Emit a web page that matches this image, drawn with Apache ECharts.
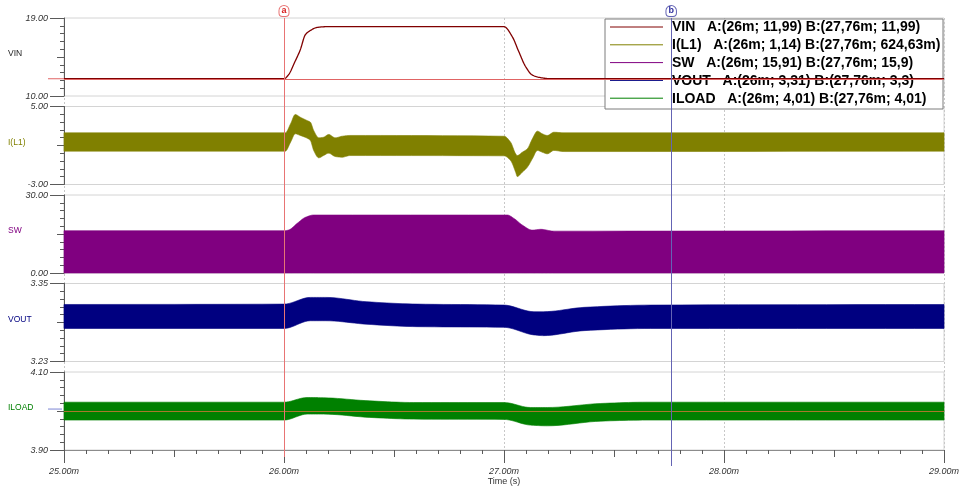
<!DOCTYPE html>
<html>
<head>
<meta charset="utf-8">
<script src="https://cdn.jsdelivr.net/npm/echarts@6/dist/echarts.min.js"></script>
<style>
  html, body { margin: 0; padding: 0; background: #fff; }
  #chart { width: 966px; height: 487px; }
</style>
</head>
<body>
<div id="chart"></div>
<script>
// ---- time axis (ms) ----
const T_MIN = 25;
const T_MAX = 29;
const timeTitle = 'Time (s)';

// ---- traces ----
const names      = ['VIN', 'I(L1)', 'SW', 'VOUT', 'ILOAD'];
const colors     = ['#800000', '#808000', '#800080', '#000080', '#008000'];
const nameColors = ['#222222', '#808000', '#800080', '#000080', '#008000'];
const yMin = [10, -3, 0, 3.23, 3.90];
const yMax = [19, 5, 30, 3.35, 4.10];

// ---- cursors ----
const cursorA = 26;
const cursorB = 27.76;
const cursorALabel = '26m';
const cursorBLabel = '27,76m';
const readA = ['11,99', '1,14', '15,91', '3,31', '4,01'];
const readB = ['11,99', '624,63m', '15,9', '3,3', '4,01'];
const vinCursorLevel = 11.99;
const iloadCursorLevel = 4.005;

// ---- VIN (single trace) ----
const vinT = [25, 26, 26.02, 26.05, 26.074, 26.097, 26.12, 26.15, 26.196, 27.0, 27.037, 27.067, 27.098, 27.128, 27.166, 27.21, 29];
const vinV = [11.99, 11.99, 12.43, 13.97, 15.33, 17.07, 17.56, 17.91, 18.0, 18.0, 16.87, 15.13, 13.4, 12.43, 12.12, 11.99, 11.99];

// ---- switching traces: upper / lower envelope of the ripple band ----
const iT  = [25, 26, 26.006, 26.03, 26.051, 26.074, 26.105, 26.12, 26.135, 26.158, 26.18, 26.203, 26.233, 26.264, 26.30, 27.0, 27.03, 27.053, 27.06, 27.083, 27.106, 27.129, 27.152, 27.174, 27.197, 27.227, 27.273, 29];
const iHi = [2.30, 2.30, 2.30, 3.23, 4.18, 3.90, 3.56, 3.39, 2.54, 1.79, 1.85, 2.13, 1.79, 1.95, 2.03, 1.95, 1.34, 0.15, -0.03, 0.31, 0.66, 1.69, 2.47, 2.20, 2.03, 2.36, 2.30, 2.30];
const iLo = [0.42, 0.42, 0.42, 1.34, 2.20, 2.03, 1.75, 1.51, 0.49, -0.26, -0.03, 0.21, -0.13, -0.20, -0.03, -0.06, -0.54, -1.74, -2.18, -1.74, -1.23, -0.36, 0.49, 0.31, 0.15, 0.49, 0.38, 0.42];

const swT  = [25, 26, 26.02, 26.06, 26.097, 26.135, 27.015, 27.045, 27.083, 27.129, 27.167, 27.227, 29];
const swHi = [16.27, 16.27, 16.5, 19.1, 21.4, 22.3, 22.3, 21.0, 18.46, 16.5, 16.8, 16.1, 16.27];
const swLo = [0, 0, 0, 0, 0, 0, 0, 0, 0, 0, 0, 0, 0];

const voT  = [25, 26, 26.12, 26.19, 26.377, 26.605, 27.0, 27.136, 27.18, 27.364, 27.667, 29];
const voHi = [3.3177, 3.3183, 3.3286, 3.3286, 3.3219, 3.3183, 3.3168, 3.3066, 3.3066, 3.3133, 3.3168, 3.3177];
const voLo = [3.2808, 3.2808, 3.2927, 3.2927, 3.2873, 3.2836, 3.2826, 3.2709, 3.2698, 3.2775, 3.2808, 3.2808];

const ilT  = [25, 26, 26.105, 26.18, 26.39, 26.59, 27.0, 27.12, 27.197, 27.44, 27.65, 29];
const ilHi = [4.0226, 4.0226, 4.0346, 4.034, 4.026, 4.0218, 4.0218, 4.009, 4.009, 4.0193, 4.0226, 4.0226];
const ilLo = [3.9767, 3.9767, 3.992, 3.992, 3.9835, 3.9792, 3.9784, 3.9638, 3.962, 3.974, 3.9767, 3.9767];

const bands = [null, [iT, iHi, iLo], [swT, swHi, swLo], [voT, voHi, voLo], [ilT, ilHi, ilLo]];

// ---- layout ----
const FONT = "'Liberation Sans', Arial, sans-serif";
const CHART_W = 966;
const GRID_LEFT = 64;
const GRID_RIGHT = 22;
const panelTop = [18, 106.5, 195, 283.5, 372];
const PANEL_H = 78;
const AXIS_GREY = '#5a5a5a';

// monotone cubic (Fritsch-Carlson) through pixel points, sampled for drawing
function smoothLine(pts) {
  const n = pts.length;
  const h = [], d = [], m = new Array(n).fill(0);
  for (let k = 0; k < n - 1; k++) {
    h[k] = pts[k + 1][0] - pts[k][0];
    d[k] = h[k] > 0 ? (pts[k + 1][1] - pts[k][1]) / h[k] : 0;
  }
  m[0] = d[0];
  m[n - 1] = d[n - 2];
  for (let k = 1; k < n - 1; k++) {
    if (d[k - 1] * d[k] <= 0) { m[k] = 0; continue; }
    const w1 = 2 * h[k] + h[k - 1], w2 = h[k] + 2 * h[k - 1];
    m[k] = (w1 + w2) / (w1 / d[k - 1] + w2 / d[k]);
  }
  const out = [];
  const STEPS = 10;
  for (let k = 0; k < n - 1; k++) {
    const p1 = pts[k], p2 = pts[k + 1];
    const c1 = [p1[0] + h[k] / 3, p1[1] + m[k] * h[k] / 3];
    const c2 = [p2[0] - h[k] / 3, p2[1] - m[k + 1] * h[k] / 3];
    for (let s = 0; s < STEPS; s++) {
      const t = s / STEPS, u = 1 - t;
      out.push([
        u * u * u * p1[0] + 3 * u * u * t * c1[0] + 3 * u * t * t * c2[0] + t * t * t * p2[0],
        u * u * u * p1[1] + 3 * u * u * t * c1[1] + 3 * u * t * t * c2[1] + t * t * t * p2[1]
      ]);
    }
  }
  out.push(pts[n - 1]);
  return out;
}

function bandRenderer(idx) {
  const [ts, his, los] = bands[idx];
  return function (params, api) {
    if (params.dataIndex !== 0) return null;
    const top = ts.map((t, k) => api.coord([t, his[k]]));
    const bot = ts.map((t, k) => api.coord([t, los[k]]));
    const pts = smoothLine(top).concat(smoothLine(bot).reverse());
    return {
      type: 'polygon',
      shape: { points: pts },
      style: { fill: colors[idx], stroke: colors[idx], lineWidth: 0.6 }
    };
  };
}

function vinRenderer(params, api) {
  if (params.dataIndex !== 0) return null;
  const pts = vinT.map((t, k) => api.coord([t, vinV[k]]));
  return {
    type: 'polyline',
    shape: { points: smoothLine(pts) },
    style: { stroke: colors[0], lineWidth: 1.3, fill: null }
  };
}

// ---- grids ----
const grids = panelTop.map(t => ({
  left: GRID_LEFT, right: GRID_RIGHT, top: t, height: PANEL_H,
  show: true, borderColor: '#d4d4d4', borderWidth: 1
}));
const plotBottom = panelTop[4] + PANEL_H;
grids.push({ left: GRID_LEFT, right: GRID_RIGHT, top: panelTop[0], height: plotBottom - panelTop[0] }); // 5: shared time axis
grids.push({ left: GRID_LEFT, right: GRID_RIGHT, top: panelTop[0], height: 439 });                    // 6: cursor a
grids.push({ left: GRID_LEFT, right: GRID_RIGHT, top: panelTop[0], height: 448 });                    // 7: cursor b

// ---- x axes ----
const xAxes = [];
for (let i = 0; i < 5; i++) {
  xAxes.push({ gridIndex: i, type: 'value', min: T_MIN, max: T_MAX, show: false });
}
xAxes.push({ // 5: labelled time axis
  gridIndex: 5, type: 'value', position: 'bottom', min: T_MIN, max: T_MAX, interval: 1,
  axisLine: { show: true, lineStyle: { color: '#8c8c8c', width: 1 } },
  axisTick: { show: true, length: 13, lineStyle: { color: AXIS_GREY } },
  minorTick: { show: true, splitNumber: 10, length: 4, lineStyle: { color: AXIS_GREY } },
  axisLabel: {
    formatter: v => v.toFixed(2) + 'm', fontStyle: 'italic', fontSize: 9,
    fontFamily: FONT, color: '#333', margin: 17
  },
  splitLine: { show: true, lineStyle: { color: '#c8c8c8', type: [2, 2], width: 1 } }
});
xAxes.push({ // 6: half-ms ticks
  gridIndex: 5, type: 'value', position: 'bottom', min: T_MIN, max: T_MAX, interval: 0.5,
  axisLine: { show: false },
  axisTick: { show: true, length: 7, lineStyle: { color: AXIS_GREY } },
  axisLabel: { show: false }, splitLine: { show: false }
});
xAxes.push({ gridIndex: 6, type: 'value', min: T_MIN, max: T_MAX, show: false }); // 7
xAxes.push({ gridIndex: 7, type: 'value', min: T_MIN, max: T_MAX, show: false }); // 8

// ---- y axes: 3 per panel (end ticks + labels, minor ticks, middle tick) ----
const yAxes = [];
for (let i = 0; i < 5; i++) {
  const lo = yMin[i], hi = yMax[i];
  const step = (hi - lo) / 10;
  const minor = [1, 2, 3, 4, 6, 7, 8, 9].map(k => lo + k * step);
  const mid = lo + 5 * step;
  const base = { gridIndex: i, type: 'value', position: 'left', min: lo, max: hi, splitLine: { show: false } };
  yAxes.push(Object.assign({}, base, {
    axisLine: { show: true, lineStyle: { color: AXIS_GREY, width: 1 } },
    axisTick: { show: true, customValues: [lo, hi], length: 14, lineStyle: { color: AXIS_GREY } },
    axisLabel: {
      show: true, customValues: [lo, hi], formatter: v => v.toFixed(2),
      fontStyle: 'italic', fontSize: 9, fontFamily: FONT, color: '#333', margin: 16
    }
  }));
  yAxes.push(Object.assign({}, base, {
    axisLine: { show: false },
    axisTick: { show: true, customValues: minor, length: 4, lineStyle: { color: AXIS_GREY } },
    axisLabel: { show: false }
  }));
  yAxes.push(Object.assign({}, base, {
    axisLine: { show: false },
    axisTick: { show: true, customValues: [mid], length: 7, lineStyle: { color: AXIS_GREY } },
    axisLabel: { show: false }
  }));
}
yAxes.push({ gridIndex: 5, type: 'value', min: 0, max: 1, show: false }); // 15
yAxes.push({ gridIndex: 6, type: 'value', min: 0, max: 1, show: false }); // 16
yAxes.push({ gridIndex: 7, type: 'value', min: 0, max: 1, show: false }); // 17

// ---- series ----
const series = [];
series.push({
  name: names[0], type: 'custom', xAxisIndex: 0, yAxisIndex: 0,
  data: vinT.map((t, k) => [t, vinV[k]]),
  encode: { x: 0, y: 1 },
  renderItem: vinRenderer, silent: true, z: 3,
  markLine: {
    silent: true, symbol: 'none', animation: false,
    data: [{ yAxis: vinCursorLevel }],
    lineStyle: { color: '#e06464', width: 1, type: 'solid' },
    label: { show: false }
  }
});
for (let i = 1; i < 5; i++) {
  const [ts, his, los] = bands[i];
  const s = {
    name: names[i], type: 'custom', xAxisIndex: i, yAxisIndex: i * 3,
    data: ts.map((t, k) => [t, his[k], los[k]]),
    encode: { x: 0, y: [1, 2] },
    renderItem: bandRenderer(i), silent: true, z: 3
  };
  if (i === 4) {
    s.markLine = {
      silent: true, symbol: 'none', animation: false,
      data: [{ yAxis: iloadCursorLevel }],
      lineStyle: { color: '#a8782c', width: 1, type: 'solid' },
      label: { show: false }
    };
  }
  series.push(s);
}

function cursorSeries(xIdx, yIdx, value, letter, color, textColor) {
  return {
    type: 'line', xAxisIndex: xIdx, yAxisIndex: yIdx, data: [], silent: true, z: 6,
    markLine: {
      silent: true, symbol: 'none', animation: false,
      data: [{ xAxis: value }],
      lineStyle: { color: color, width: 1, type: 'solid' },
      label: {
        show: true, position: 'end', formatter: letter, distance: 2,
        color: textColor, fontSize: 9, fontWeight: 'bold', fontFamily: FONT,
        backgroundColor: '#fff', borderColor: color, borderWidth: 1,
        borderRadius: [5, 5, 3, 3], padding: [0, 2, 0, 2], lineHeight: 10
      }
    }
  };
}
series.push(cursorSeries(7, 16, cursorA, 'a', '#e87474', '#d82020'));
series.push(cursorSeries(8, 17, cursorB, 'b', '#6464b4', '#3030a0'));

// ---- legend box with cursor readouts, trace names, time axis title ----
const graphics = [];
const LEG_X = 605, LEG_Y = 19, LEG_W = 338, LEG_H = 90, ROW0 = 27, ROW_H = 17.8;
graphics.push({
  type: 'rect', z: 1, silent: true,
  shape: { x: LEG_X, y: LEG_Y, width: LEG_W, height: LEG_H },
  style: { fill: '#fff', stroke: '#7c7c7c', lineWidth: 1 }
});
names.forEach((n, i) => {
  const ry = ROW0 + i * ROW_H;
  graphics.push({
    type: 'line', z: 1, silent: true,
    shape: { x1: LEG_X + 5, y1: ry, x2: LEG_X + 58, y2: ry },
    style: { stroke: colors[i], lineWidth: 1 }
  });
  graphics.push({
    type: 'text', z: 1, silent: true, x: LEG_X + 67, y: ry + 0.5,
    style: {
      text: n + '   A:(' + cursorALabel + '; ' + readA[i] + ') B:(' + cursorBLabel + '; ' + readB[i] + ')',
      font: 'bold 14px ' + FONT, fill: '#000', verticalAlign: 'middle', align: 'left'
    }
  });
  graphics.push({
    type: 'text', z: 1, silent: true, x: 8, y: panelTop[i] + PANEL_H / 2 - 3,
    style: { text: n, font: '8.5px ' + FONT, fill: nameColors[i], verticalAlign: 'middle', align: 'left' }
  });
});
graphics.push({
  type: 'text', z: 1, silent: true,
  x: (GRID_LEFT + CHART_W - GRID_RIGHT) / 2, y: 482,
  style: { text: timeTitle, font: '9px ' + FONT, fill: '#333', align: 'center', verticalAlign: 'middle' }
});

const chart = echarts.init(document.getElementById('chart'), null, { renderer: 'canvas' });
const option = {
  animation: false,
  backgroundColor: '#fff',
  grid: grids,
  xAxis: xAxes,
  yAxis: yAxes,
  series: series,
  graphic: { elements: graphics }
};
chart.setOption(option);

// cursor level markers just left of the value axes
const vinY = chart.convertToPixel({ yAxisIndex: 0 }, vinCursorLevel);
const ilY = chart.convertToPixel({ yAxisIndex: 12 }, iloadCursorLevel);
graphics.push({
  type: 'line', z: 1, silent: true,
  shape: { x1: GRID_LEFT - 16, y1: vinY, x2: GRID_LEFT, y2: vinY },
  style: { stroke: '#e06464', lineWidth: 1 }
});
graphics.push({
  type: 'line', z: 1, silent: true,
  shape: { x1: GRID_LEFT - 16, y1: ilY, x2: GRID_LEFT - 2, y2: ilY },
  style: { stroke: '#7c86d4', lineWidth: 1 }
});
chart.setOption({ graphic: { elements: graphics } });
</script>
</body>
</html>
